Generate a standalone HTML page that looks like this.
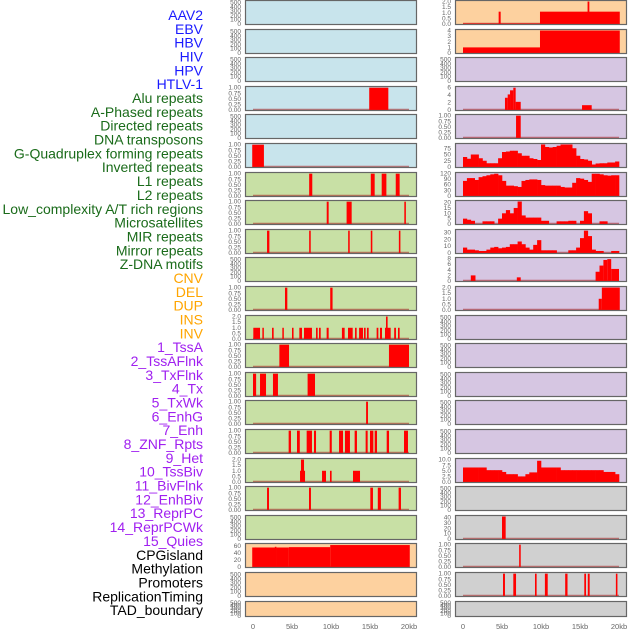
<!DOCTYPE html>
<html><head><meta charset="utf-8"><style>
html,body{margin:0;padding:0;background:#fff;}
svg{display:block;font-family:"Liberation Sans",sans-serif;}
</style></head><body>
<svg id="chart" width="630" height="630" viewBox="0 0 630 630"></svg>
<script>
// ---------- labels ----------
const labelNames = ["AAV2","EBV","HBV","HIV","HPV","HTLV-1","Alu repeats","A-Phased repeats","Directed repeats","DNA transposons","G-Quadruplex forming repeats","Inverted repeats","L1 repeats","L2 repeats","Low_complexity A/T rich regions","Microsatellites","MIR repeats","Mirror repeats","Z-DNA motifs","CNV","DEL","DUP","INS","INV","1_TssA","2_TssAFlnk","3_TxFlnk","4_Tx","5_TxWk","6_EnhG","7_Enh","8_ZNF_Rpts","9_Het","10_TssBiv","11_BivFlnk","12_EnhBiv","13_ReprPC","14_ReprPCWk","15_Quies","CPGisland","Methylation","Promoters","ReplicationTiming","TAD_boundary"];
const labelGroups = [0,0,0,0,0,0,1,1,1,1,1,1,1,1,1,1,1,1,1,2,2,2,2,2,3,3,3,3,3,3,3,3,3,3,3,3,3,3,3,4,4,4,4,4];
const xTickValues = [0,5,10,15,20];
const xTickLabels = ["0","5kb","10kb","15kb","20kb"];

// ---------- interval data [startKb, endKb, value] ----------
const L_alu = [[14.9,17.35,1]];
const L_gquad = [[-0.1,1.4,1]];
const L_l1 = [[7.2,7.6,1],[15.1,15.6,1],[16.5,17.1,1],[18.3,18.8,1]];
const L_lowcx = [[9.45,9.7,1],[12.0,12.65,1],[19.4,19.6,1]];
const L_mir = [[1.8,2.1,1],[7.2,7.4,1],[12.2,12.4,1],[15.1,15.3,1],[18.7,18.9,1]];
const L_del = [[4.1,4.4,1],[9.9,10.2,1]];
const L_ins = [[0.04,0.9,1],[1.2,1.37,1],[2.44,2.65,1],[3.76,3.93,1],[5.0,5.2,1],[5.94,6.28,1],[6.54,7.56,1],[8.08,8.29,1],[8.46,8.68,1],[9.44,9.7,1],[11.4,11.75,1],[12.18,12.78,1],[13.08,13.29,1],[13.6,14.1,1],[14.23,14.44,1],[14.61,14.83,1],[15.85,16.07,1],[16.28,16.54,1],[16.92,17.65,1],[17.05,17.26,2],[18.1,18.33,1],[18.59,18.8,1]];
const L_tssa = [[3.38,4.62,1],[17.43,20.0,1]];
const L_txflnk = [[0,0.4,1],[0.9,1.67,1],[2.56,3.2,1],[7.0,7.95,1]];
const L_txwk = [[14.5,14.74,1]];
const L_enh = [[4.57,4.87,1],[5.64,6.0,1],[6.88,7.56,1],[7.82,8.08,1],[9.83,10.1,1],[11.03,11.54,1],[11.79,12.43,1],[13.03,13.33,1],[14.44,14.7,1],[15.0,15.43,1],[15.6,15.9,1],[17.14,17.44,1],[19.36,19.87,1]];
const L_het = [[6.03,6.67,1],[6.15,6.54,2],[8.85,9.36,1],[9.87,10.08,1],[12.82,13.72,1]];
const L_bivflnk = [[1.8,2.05,1],[7.18,7.43,1],[15.04,15.38,1],[16.0,16.4,1],[18.67,18.97,1]];
const L_cpg = [[-0.1,3.0,56],[2.8,3.0,58],[3.0,4.6,56],[4.6,9.9,57],[9.9,20.1,63]];
const R_aav2 = [[0,20.1,0.05],[4.57,4.83,1.1],[9.87,20.1,1.1],[15.97,16.2,2.0]];
const R_ebv = [[0,9.87,1],[9.87,20.1,4]];
const R_alu = [[5.38,5.73,3.3],[5.73,6.03,4.2],[6.03,6.45,5.3],[6.45,6.75,6],[6.75,7.4,2.2],[15.26,16.5,1.3]];
const R_aphased = [[6.8,7.4,1]];
const R_zdna = [[1.0,1.6,2],[6.9,7.4,1.3],[17,17.5,3.3],[17.5,18,5.5],[18,18.5,7.5],[18.5,19,7.8],[19,20,4.3]];
const R_cnv = [[17.4,17.8,1],[17.8,20.1,2]];
const R_reprpc = [[5.0,5.47,42]];
const R_cpg = [[7.2,7.4,1]];
const R_methyl = [[5.13,5.38,1],[6.45,6.8,1],[9.23,9.44,1],[10.5,10.86,1],[13.1,13.4,1],[15.55,15.77,1],[16.0,16.24,1],[19.6,19.8,1]];

// ---------- binned data (0.5 kb bins from 0 kb) ----------
const R_gquad = [40,33,50,50,35,25,15,15,15,35,60,62,65,65,55,45,45,35,32,28,90,80,78,80,85,90,90,90,75,45,32,30,25,10,14,15,15,18,18,22];
const R_inverted = [80,95,95,85,100,105,110,115,118,110,80,55,55,52,48,80,85,88,88,85,58,55,55,55,55,48,45,45,70,95,92,85,75,118,118,115,110,108,110,110];
const R_l1 = [5,4,3,0,0,2.5,2.5,2.5,0,5,10,13,10,15,21,8,6,6,6,6,3,3,0,0,2.5,2.5,2.5,3,3,0,3,12,10,0,0,2.5,2.5,0,0,0];
const R_l2 = [8,5,5,4,3,3,5,8,9,7,8,9,13,13,17,13,8,5,12,19,4,4,4,4,0,0,0,4,4,8,22,33,25,5,3,3,0,0,3,3];
const R_het = [6.5,6.5,6.5,6.5,6.5,6.5,5.3,5.3,5.3,5.3,4.5,3.5,3.5,3.5,2.5,2.5,3.5,4.3,4.3,9.5,6.5,6.5,6.5,6.5,6.5,5.3,5.3,5.3,5.3,5.3,5.3,5.3,5.3,5.3,5.3,5.3,4.5,4.5,4.5,3.5];

// ---------- tick sets ----------
const T_empty = [0,100,200,300,400,500];
const T_unit = [0,0.25,0.5,0.75,1];
const T_two = [0,0.5,1,1.5,2];

const panels = [
 {row:0,side:0,bg:"#c8e4ec",ticks:T_empty,ymax:540,fmt:0,name:"aav2-left"},
 {row:0,side:1,bg:"#fdd19f",ticks:T_two,ymax:2.05,fmt:1,data:R_aav2,name:"aav2-right"},
 {row:1,side:0,bg:"#c8e4ec",ticks:T_empty,ymax:540,fmt:0,name:"ebv-left"},
 {row:1,side:1,bg:"#fdd19f",ticks:[0,1,2,3,4],ymax:4.1,fmt:0,data:R_ebv,name:"ebv-right"},
 {row:2,side:0,bg:"#c8e4ec",ticks:T_empty,ymax:540,fmt:0,name:"hbv-left"},
 {row:2,side:1,bg:"#d6c6e2",ticks:T_empty,ymax:540,fmt:0,name:"hbv-right"},
 {row:3,side:0,bg:"#c8e4ec",ticks:T_unit,ymax:1.03,fmt:2,data:L_alu,name:"hiv-left"},
 {row:3,side:1,bg:"#d6c6e2",ticks:[0,2,4,6],ymax:6.2,fmt:0,data:R_alu,name:"hiv-right"},
 {row:4,side:0,bg:"#c8e4ec",ticks:T_empty,ymax:540,fmt:0,name:"hpv-left"},
 {row:4,side:1,bg:"#d6c6e2",ticks:T_unit,ymax:1.03,fmt:2,data:R_aphased,name:"hpv-right"},
 {row:5,side:0,bg:"#c8e4ec",ticks:T_unit,ymax:1.03,fmt:2,data:L_gquad,name:"htlv-left"},
 {row:5,side:1,bg:"#d6c6e2",ticks:[0,25,50,75],ymax:92,fmt:0,bins:R_gquad,name:"htlv-right"},
 {row:6,side:0,bg:"#c8e0a5",ticks:T_unit,ymax:1.03,fmt:2,data:L_l1,name:"row6-left"},
 {row:6,side:1,bg:"#d6c6e2",ticks:[0,30,60,90,120],ymax:122,fmt:0,bins:R_inverted,name:"row6-right"},
 {row:7,side:0,bg:"#c8e0a5",ticks:T_unit,ymax:1.03,fmt:2,data:L_lowcx,name:"row7-left"},
 {row:7,side:1,bg:"#d6c6e2",ticks:[0,5,10,15,20],ymax:21.5,fmt:0,bins:R_l1,name:"row7-right"},
 {row:8,side:0,bg:"#c8e0a5",ticks:T_unit,ymax:1.03,fmt:2,data:L_mir,name:"row8-left"},
 {row:8,side:1,bg:"#d6c6e2",ticks:[0,10,20,30],ymax:34,fmt:0,bins:R_l2,name:"row8-right"},
 {row:9,side:0,bg:"#c8e0a5",ticks:T_empty,ymax:540,fmt:0,name:"row9-left"},
 {row:9,side:1,bg:"#d6c6e2",ticks:[0,2,4,6,8],ymax:8.2,fmt:0,data:R_zdna,name:"row9-right"},
 {row:10,side:0,bg:"#c8e0a5",ticks:T_unit,ymax:1.03,fmt:2,data:L_del,name:"row10-left"},
 {row:10,side:1,bg:"#d6c6e2",ticks:T_two,ymax:2.05,fmt:1,data:R_cnv,name:"row10-right"},
 {row:11,side:0,bg:"#c8e0a5",ticks:T_two,ymax:2.05,fmt:1,data:L_ins,name:"row11-left"},
 {row:11,side:1,bg:"#d6c6e2",ticks:T_empty,ymax:540,fmt:0,name:"row11-right"},
 {row:12,side:0,bg:"#c8e0a5",ticks:T_unit,ymax:1.03,fmt:2,data:L_tssa,name:"row12-left"},
 {row:12,side:1,bg:"#d6c6e2",ticks:T_empty,ymax:540,fmt:0,name:"row12-right"},
 {row:13,side:0,bg:"#c8e0a5",ticks:T_unit,ymax:1.03,fmt:2,data:L_txflnk,name:"row13-left"},
 {row:13,side:1,bg:"#d6c6e2",ticks:T_empty,ymax:540,fmt:0,name:"row13-right"},
 {row:14,side:0,bg:"#c8e0a5",ticks:T_unit,ymax:1.03,fmt:2,data:L_txwk,name:"row14-left"},
 {row:14,side:1,bg:"#d6c6e2",ticks:T_empty,ymax:540,fmt:0,name:"row14-right"},
 {row:15,side:0,bg:"#c8e0a5",ticks:T_unit,ymax:1.03,fmt:2,data:L_enh,name:"row15-left"},
 {row:15,side:1,bg:"#d6c6e2",ticks:T_empty,ymax:540,fmt:0,name:"row15-right"},
 {row:16,side:0,bg:"#c8e0a5",ticks:T_two,ymax:2.05,fmt:1,data:L_het,name:"row16-left"},
 {row:16,side:1,bg:"#d6c6e2",ticks:[0,2.5,5,7.5,10],ymax:10.3,fmt:1,bins:R_het,name:"row16-right"},
 {row:17,side:0,bg:"#c8e0a5",ticks:T_unit,ymax:1.03,fmt:2,data:L_bivflnk,name:"row17-left"},
 {row:17,side:1,bg:"#d0d0d0",ticks:T_empty,ymax:540,fmt:0,name:"row17-right"},
 {row:18,side:0,bg:"#c8e0a5",ticks:T_empty,ymax:540,fmt:0,name:"row18-left"},
 {row:18,side:1,bg:"#d0d0d0",ticks:[0,10,20,30,40],ymax:43,fmt:0,data:R_reprpc,name:"row18-right"},
 {row:19,side:0,bg:"#fdd19f",ticks:[0,20,40,60],ymax:66,fmt:0,data:L_cpg,name:"row19-left"},
 {row:19,side:1,bg:"#d0d0d0",ticks:T_unit,ymax:1.03,fmt:2,data:R_cpg,name:"row19-right"},
 {row:20,side:0,bg:"#fdd19f",ticks:T_empty,ymax:540,fmt:0,name:"row20-left"},
 {row:20,side:1,bg:"#d0d0d0",ticks:T_unit,ymax:1.03,fmt:2,data:R_methyl,name:"row20-right"},
 {row:21,side:0,bg:"#fdd19f",ticks:T_empty,ymax:540,fmt:0,name:"row21-left"},
 {row:21,side:1,bg:"#d0d0d0",ticks:T_empty,ymax:540,fmt:0,name:"row21-right"}
];

const NS = "http://www.w3.org/2000/svg";
const svg = document.getElementById("chart");
function mk(tag, attrs, parent){const e=document.createElementNS(NS,tag);for(const k in attrs)e.setAttribute(k,attrs[k]);(parent||svg).appendChild(e);return e;}
const groupColors = ["#1a1aff","#1a6b1a","#ffa500","#a020f0","#000000"];

// labels
labelNames.forEach((t,i)=>{
  const el = mk("text",{x:203,y:15+i*13.84,"text-anchor":"end","dominant-baseline":"central","font-size":"14",fill:groupColors[labelGroups[i]]});
  el.textContent=t;
  
  
});

function xScale(side){const x0 = side===0?253:463; return kb => x0 + kb*7.8;}
function panelBox(p){const left = p.side===0?245:455; const top = p.row===21?601:Math.round(p.row*28.6); const h = p.row===21?16:25; return {left,top,w:172,h};}

panels.forEach(p=>{
  const b = panelBox(p);
  const xs = xScale(p.side);
  const y0 = b.top + b.h - 1, ph = b.h - 2;
  const ys = v => y0 - v/p.ymax*ph;
  const g = mk("g",{});
  
  
  const bg = mk("rect",{x:b.left,y:b.top,width:b.w,height:b.h,fill:p.bg},g);
  
  
  const hasData = p.data || p.bins;
  if(hasData){
    const bl = mk("line",{x1:xs(0),x2:xs(20),y1:y0-0.5,y2:y0-0.5,stroke:"rgba(170,30,30,0.55)","stroke-width":"1.5"},g);
    
    
  }
  if(p.data){
    p.data.forEach(d=>{
      if(d[2]<=0) return;
      const r = mk("rect",{x:xs(d[0]),y:ys(d[2]),width:Math.max(1.5,xs(d[1])-xs(d[0])),height:y0-ys(d[2]),fill:"#ff0000"},g);
      
      
    });
  }
  if(p.bins){
    p.bins.forEach((v,i)=>{
      if(v<=0) return;
      const r = mk("rect",{x:xs(i*0.5),y:ys(v),width:xs(0.5)-xs(0)+0.3,height:y0-ys(v),fill:"#ff0000"},g);
      
      
    });
  }
  const bd = mk("rect",{x:b.left+0.5,y:b.top+0.5,width:b.w-1,height:b.h-1,fill:"none",stroke:"#666",'stroke-width':"1.2"},g);
  
  
  p.ticks.forEach(t=>{
    const tx = mk("text",{x:b.left-4,y:ys(t)+2,"text-anchor":"end","font-size":"6.5",fill:"#666"},g);
    tx.textContent = t.toFixed(p.fmt);
    
    
  });
});

// x-axis labels
[0,1].forEach(side=>{
  const xs = xScale(side);
  xTickValues.forEach((v,i)=>{
    const t = mk("text",{x:xs(v),y:629,"text-anchor":"middle","font-size":"7.5",fill:"#666"});
    t.textContent = xTickLabels[i];
    
    
  });
});
</script>
</body></html>
